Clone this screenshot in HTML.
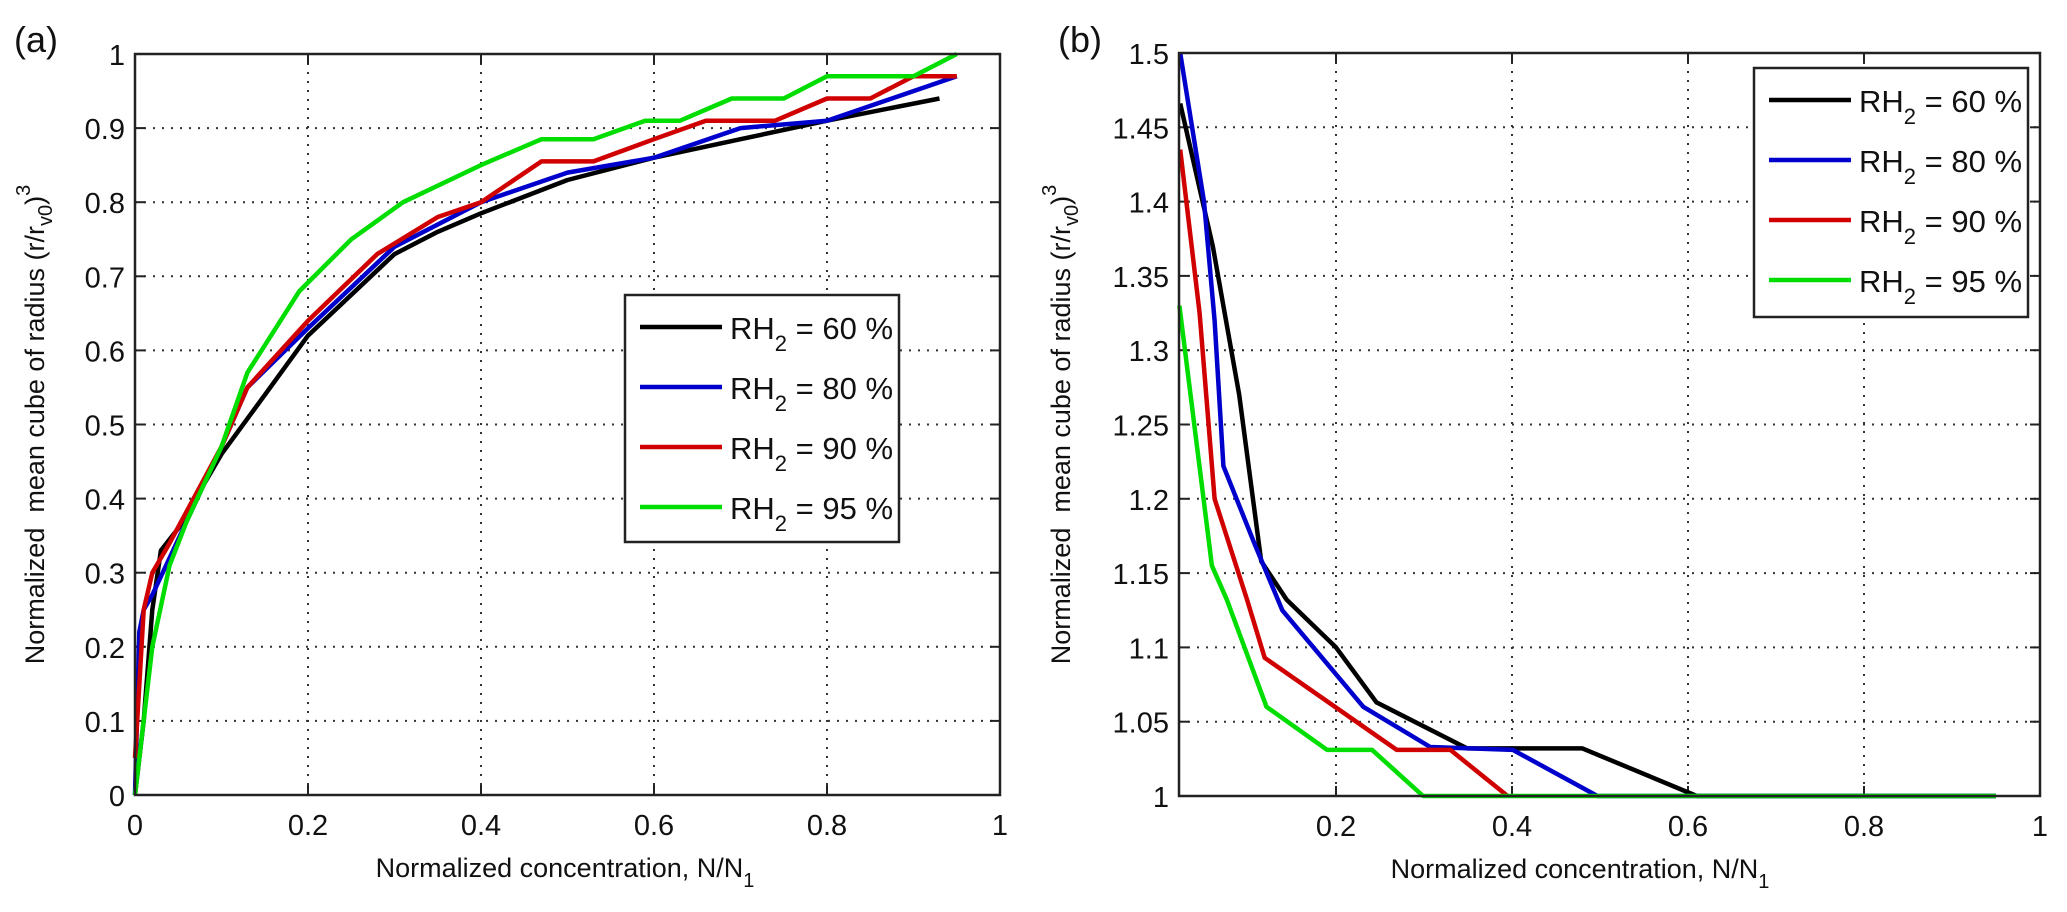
<!DOCTYPE html>
<html><head><meta charset="utf-8">
<style>
html,body{margin:0;padding:0;background:#fff;}
svg{display:block;font-family:"Liberation Sans",Arial,sans-serif;}
</style></head>
<body>
<svg id="fig" width="2067" height="912" viewBox="0 0 2067 912" xmlns="http://www.w3.org/2000/svg">
</svg>
<script>
// ---- Panel (a) data ----
const aXTicks = [0, 0.2, 0.4, 0.6, 0.8, 1];
const aXTickLabels = ["0", "0.2", "0.4", "0.6", "0.8", "1"];
const aYTicks = [0, 0.1, 0.2, 0.3, 0.4, 0.5, 0.6, 0.7, 0.8, 0.9, 1];
const aYTickLabels = ["0", "0.1", "0.2", "0.3", "0.4", "0.5", "0.6", "0.7", "0.8", "0.9", "1"];
const aBlackX = [0, 0.01, 0.02, 0.03, 0.05, 0.1, 0.15, 0.2, 0.3, 0.35, 0.4, 0.5, 0.6, 0.7, 0.8, 0.93];
const aBlackY = [0, 0.1, 0.25, 0.33, 0.36, 0.46, 0.54, 0.62, 0.73, 0.76, 0.785, 0.83, 0.86, 0.885, 0.91, 0.94];
const aBlueX = [0, 0.005, 0.01, 0.02, 0.04, 0.1, 0.13, 0.2, 0.3, 0.4, 0.5, 0.6, 0.7, 0.8, 0.95];
const aBlueY = [0, 0.22, 0.25, 0.27, 0.32, 0.47, 0.55, 0.63, 0.74, 0.8, 0.84, 0.86, 0.9, 0.91, 0.97];
const aRedX = [0, 0.01, 0.02, 0.04, 0.1, 0.13, 0.2, 0.28, 0.35, 0.4, 0.47, 0.53, 0.6, 0.66, 0.74, 0.8, 0.85, 0.9, 0.95];
const aRedY = [0.05, 0.25, 0.3, 0.34, 0.47, 0.55, 0.64, 0.73, 0.78, 0.8, 0.855, 0.855, 0.885, 0.91, 0.91, 0.94, 0.94, 0.97, 0.97];
const aGreenX = [0, 0.02, 0.04, 0.06, 0.1, 0.13, 0.19, 0.25, 0.31, 0.4, 0.47, 0.53, 0.59, 0.63, 0.69, 0.75, 0.8, 0.9, 0.95];
const aGreenY = [0, 0.2, 0.31, 0.37, 0.47, 0.57, 0.68, 0.75, 0.8, 0.85, 0.885, 0.885, 0.91, 0.91, 0.94, 0.94, 0.97, 0.97, 1.0];
// ---- Panel (b) data ----
const bXTicks = [0.2, 0.4, 0.6, 0.8, 1];
const bXTickLabels = ["0.2", "0.4", "0.6", "0.8", "1"];
const bYTicks = [1, 1.05, 1.1, 1.15, 1.2, 1.25, 1.3, 1.35, 1.4, 1.45, 1.5];
const bYTickLabels = ["1", "1.05", "1.1", "1.15", "1.2", "1.25", "1.3", "1.35", "1.4", "1.45", "1.5"];
const bBlackX = [0.023, 0.06, 0.09, 0.115, 0.144, 0.2, 0.246, 0.349, 0.48, 0.61, 0.95];
const bBlackY = [1.466, 1.37, 1.27, 1.158, 1.132, 1.1, 1.063, 1.032, 1.032, 1.0, 1.0];
const bBlueX = [0.023, 0.05, 0.062, 0.072, 0.108, 0.139, 0.231, 0.307, 0.401, 0.497, 0.95];
const bBlueY = [1.5, 1.4, 1.32, 1.222, 1.169, 1.125, 1.06, 1.033, 1.031, 1.0, 1.0];
const bRedX = [0.023, 0.045, 0.062, 0.099, 0.119, 0.269, 0.33, 0.395];
const bRedY = [1.435, 1.325, 1.2, 1.132, 1.093, 1.031, 1.031, 1.0];
const bGreenX = [0.022, 0.059, 0.076, 0.121, 0.19, 0.241, 0.299, 0.95];
const bGreenY = [1.33, 1.155, 1.132, 1.06, 1.031, 1.031, 1.0, 1.0];
const legendLabels = ["60", "80", "90", "95"];
const seriesColors = ["#000000", "#0000cc", "#d00000", "#00dd00"];

const NS = "http://www.w3.org/2000/svg";
const svg = document.getElementById("fig");
function mk(tag, attrs, parent) {
  const e = document.createElementNS(NS, tag);
  for (const k in attrs) e.setAttribute(k, attrs[k]);
  (parent || svg).appendChild(e);
  return e;
}

function panel(cfg) {
  const g = mk("g", {});
  
  
  const X = v => cfg.x0 + (v - cfg.xmin) / (cfg.xmax - cfg.xmin) * (cfg.x1 - cfg.x0);
  const Y = v => cfg.y1 - (v - cfg.ymin) / (cfg.ymax - cfg.ymin) * (cfg.y1 - cfg.y0);
  cfg.xTicks.forEach((t, i) => {
    const x = X(t);
    if (x > cfg.x0 + 2 && x < cfg.x1 - 2) {
      const gl = mk("line", {x1: x, x2: x, y1: cfg.y0, y2: cfg.y1, stroke: "#333", "stroke-width": 2, "stroke-dasharray": "2 7"}, g);
      
      
    }
    mk("line", {x1: x, x2: x, y1: cfg.y1, y2: cfg.y1 - 10, stroke: "#222", "stroke-width": 2}, g);
    mk("line", {x1: x, x2: x, y1: cfg.y0, y2: cfg.y0 + 10, stroke: "#222", "stroke-width": 2}, g);
    const tl = mk("text", {x: x, y: cfg.y1 + 40, "text-anchor": "middle", "font-size": 29, fill: "#111"}, g);
    tl.textContent = cfg.xLabels[i];
    
    
  });
  cfg.yTicks.forEach((t, i) => {
    const y = Y(t);
    if (y > cfg.y0 + 2 && y < cfg.y1 - 2) {
      const gl = mk("line", {x1: cfg.x0, x2: cfg.x1, y1: y, y2: y, stroke: "#333", "stroke-width": 2, "stroke-dasharray": "2 7"}, g);
      
      
    }
    mk("line", {x1: cfg.x0, x2: cfg.x0 + 10, y1: y, y2: y, stroke: "#222", "stroke-width": 2}, g);
    mk("line", {x1: cfg.x1, x2: cfg.x1 - 10, y1: y, y2: y, stroke: "#222", "stroke-width": 2}, g);
    const tl = mk("text", {x: cfg.x0 - 10, y: y + 11, "text-anchor": "end", "font-size": 29, fill: "#111"}, g);
    tl.textContent = cfg.yLabels[i];
    
    
  });
  cfg.series.forEach((s, k) => {
    const pts = s.x.map((v, i) => X(v).toFixed(1) + "," + Y(s.y[i]).toFixed(1)).join(" ");
    const pl = mk("polyline", {points: pts, fill: "none", stroke: seriesColors[k], "stroke-width": 4.5, "stroke-linejoin": "round"}, g);
    
    
  });
  const fr = mk("rect", {x: cfg.x0, y: cfg.y0, width: cfg.x1 - cfg.x0, height: cfg.y1 - cfg.y0, fill: "none", stroke: "#222", "stroke-width": 2.5}, g);
  
  
  const L = cfg.legend;
  const lg = mk("g", {}, g);
  
  
  mk("rect", {x: L.x, y: L.y, width: L.w, height: L.h, fill: "#fff", stroke: "#222", "stroke-width": 2.5}, lg);
  legendLabels.forEach((lab, k) => {
    const cy = L.y + 32 + k * 60;
    const ent = mk("g", {}, lg);
    
    
    mk("line", {x1: L.x + 15, x2: L.x + 97, y1: cy, y2: cy, stroke: seriesColors[k], "stroke-width": 4.5}, ent);
    const t = mk("text", {x: L.x + 105, y: cy + 12, "font-size": 31, fill: "#111"}, ent);
    t.innerHTML = 'RH<tspan dy="12" font-size="22">2</tspan><tspan dy="-12"> = ' + lab + ' %</tspan>';
  });
  const xt = mk("text", {x: cfg.xTitleX, y: cfg.y1 + 82, "text-anchor": "middle", "font-size": 27, fill: "#111"}, g);
  xt.innerHTML = 'Normalized concentration, N/N<tspan dy="10" font-size="20">1</tspan>';
  
  
  const yt = mk("text", {x: 0, y: 0, "text-anchor": "middle", "font-size": 27, fill: "#111", transform: "translate(" + cfg.yTitleX + "," + ((cfg.y0 + cfg.y1) / 2) + ") rotate(-90)"}, g);
  yt.innerHTML = 'Normalized&#160; mean cube of radius (r/r<tspan dy="8" font-size="20">v0</tspan><tspan dy="-8">)</tspan><tspan dy="-14" font-size="20">3</tspan>';
  
  
  const pl = mk("text", {x: cfg.labelX, y: 52, "font-size": 36, fill: "#111"}, g);
  pl.textContent = cfg.label;
  
  
}

panel({name: "panel-a", x0: 135, x1: 1000, y0: 54, y1: 795, xmin: 0, xmax: 1, ymin: 0, ymax: 1,
  xTicks: aXTicks, xLabels: aXTickLabels, yTicks: aYTicks, yLabels: aYTickLabels,
  series: [{x: aBlackX, y: aBlackY}, {x: aBlueX, y: aBlueY}, {x: aRedX, y: aRedY}, {x: aGreenX, y: aGreenY}],
  legend: {x: 625, y: 295, w: 274, h: 247}, xTitleX: 565, yTitleX: 44, label: "(a)", labelX: 14});

panel({name: "panel-b", x0: 1179, x1: 2040, y0: 53, y1: 796, xmin: 0.0216, xmax: 1, ymin: 1, ymax: 1.5,
  xTicks: bXTicks, xLabels: bXTickLabels, yTicks: bYTicks, yLabels: bYTickLabels,
  series: [{x: bBlackX, y: bBlackY}, {x: bBlueX, y: bBlueY}, {x: bRedX, y: bRedY}, {x: bGreenX, y: bGreenY}],
  legend: {x: 1754, y: 68, w: 274, h: 249}, xTitleX: 1580, yTitleX: 1070, label: "(b)", labelX: 1058});
</script>
</body></html>
